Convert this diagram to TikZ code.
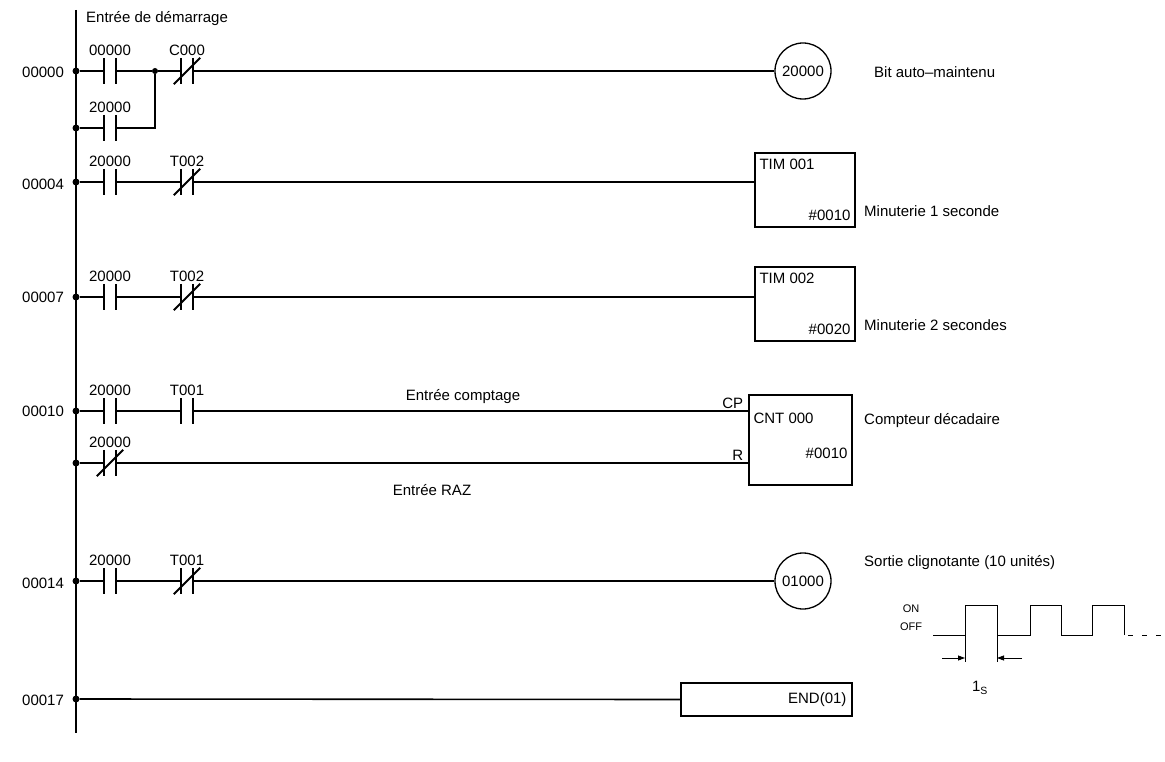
\documentclass[tikz,border=0pt]{standalone}
\usepackage{fontspec}
\setmainfont{Liberation Sans}
\usetikzlibrary{arrows.meta, positioning, calc}

\begin{document}
\begin{tikzpicture}[
		x=1pt, y=-1pt,
		every node/.style={font=\fontsize{15}{18}\selectfont, inner sep=2pt},
		wire/.style={line width=1.6pt},
		bar/.style={line width=1.8pt},
		contact/.style={minimum width=12pt, minimum height=26pt, inner sep=0pt,
			label distance=3pt},
		dot/.style={circle, fill, inner sep=0pt, minimum size=7pt},
		coil/.style={draw, circle, line width=1.3pt, minimum size=56pt, inner sep=0pt},
		fbox/.style={draw, line width=1.3pt, inner sep=0pt},
		addr/.style={anchor=west},
		note/.style={anchor=west},
		wave/.style={line width=1pt},
		dim/.style={line width=0.8pt, -{Triangle[length=7pt, width=5pt]}}
		]
		\useasboundingbox (0,0) rectangle (1165,762);
		
		% === RAIL ===
		\coordinate (railtop) at (76,10);
		\coordinate (railbot) at (76,733);
		\draw[line width=2pt] (railtop) -- (railbot);
		\node[anchor=west] (start) at (84,19) {Entrée de démarrage};
		
		% === RUNG 00000 ===
		\node[addr] (a0) at (20,72) {00000};
		\node[dot] (r0) at (76,71) {};
		\node[dot] (r0b) at (76,128) {};
		\node[contact, label={above:00000}] (k0) at (110,71) {};
		\node[contact, label={above:20000}] (k0b) at (110,128) {};
		\node[dot, minimum size=6pt] (j0) at (155,71) {};
		\node[contact, label={above:C000}] (k1) at (187,71) {};
		\node[coil] (q0) at (803,71) {20000};
		\node[note] (n0) at (872,72) {Bit auto--maintenu};
		\draw[wire] (r0) -- (k0.west) (k0.east) -- (j0) -- (k1.west) (k1.east) -- (q0);
		\draw[wire] (r0b) -- (k0b.west) (k0b.east) -| (j0);
		
		% === RUNG 00004 ===
		\node[addr] (a4) at (20,184) {00004};
		\node[dot] (r4) at (76,182) {};
		\node[contact, label={above:20000}] (k4) at (110,182) {};
		\node[contact, label={above:T002}] (k5) at (187,182) {};
		\node[fbox, minimum width=100pt, minimum height=74pt] (t1) at (805,190) {};
		\node[anchor=north west] at ([xshift=3pt,yshift=-4pt]t1.north west) {TIM 001};
		\node[anchor=south east] at ([xshift=-3pt,yshift=5pt]t1.south east) {\#0010};
		\node[note] (n4) at (862,211) {Minuterie 1 seconde};
		\draw[wire] (r4) -- (k4.west) (k4.east) -- (k5.west) (k5.east) -- (t1.west |- k5);
		
		% === RUNG 00007 ===
		\node[addr] (a7) at (20,297) {00007};
		\node[dot] (r7) at (76,297) {};
		\node[contact, label={above:20000}] (k7) at (110,297) {};
		\node[contact, label={above:T002}] (k8) at (187,297) {};
		\node[fbox, minimum width=100pt, minimum height=74pt] (t2) at (805,304) {};
		\node[anchor=north west] at ([xshift=3pt,yshift=-4pt]t2.north west) {TIM 002};
		\node[anchor=south east] at ([xshift=-3pt,yshift=5pt]t2.south east) {\#0020};
		\node[note] (n7) at (862,325) {Minuterie 2 secondes};
		\draw[wire] (r7) -- (k7.west) (k7.east) -- (k8.west) (k8.east) -- (t2.west |- k8);
		
		% === RUNG 00010 ===
		\node[addr] (a10) at (20,411) {00010};
		\node[dot] (r10) at (76,411) {};
		\node[dot] (r10b) at (76,463) {};
		\node[contact, label={above:20000}] (k10) at (110,411) {};
		\node[contact, label={above:T001}] (k11) at (187,411) {};
		\node[contact, label={above:20000}] (k12) at (110,463) {};
		\node[fbox, minimum width=103pt, minimum height=90pt] (c0) at (800.5,440) {};
		\node[anchor=north west] at ([xshift=3pt,yshift=-16pt]c0.north west) {CNT 000};
		\node[anchor=south east] at ([xshift=-3pt,yshift=25pt]c0.south east) {\#0010};
		\node[anchor=south east] at ([xshift=-3pt]c0.west |- k11) {CP};
		\node[anchor=south east] at ([xshift=-3pt]c0.west |- k12) {R};
		\node (cin) at (463,397) {Entrée comptage};
		\node (rin) at (432,490) {Entrée RAZ};
		\node[note] (n10) at (862,421) {Compteur décadaire};
		\draw[wire] (r10) -- (k10.west) (k10.east) -- (k11.west) (k11.east) -- (c0.west |- k11);
		\draw[wire] (r10b) -- (k12.west) (k12.east) -- (c0.west |- k12);
		
		% === RUNG 00014 ===
		\node[addr] (a14) at (20,583) {00014};
		\node[dot] (r14) at (76,581) {};
		\node[contact, label={above:20000}] (k14) at (110,581) {};
		\node[contact, label={above:T001}] (k15) at (187,581) {};
		\node[coil] (q1) at (803,581) {01000};
		\node[note] (n14) at (862,563) {Sortie clignotante (10 unités)};
		\draw[wire] (r14) -- (k14.west) (k14.east) -- (k15.west) (k15.east) -- (q1);
		
		% === RUNG 00017 ===
		\node[addr] (a17) at (20,700) {00017};
		\node[dot] (r17) at (76,699) {};
		\node[fbox, minimum width=171pt, minimum height=33pt] (e0) at (766.5,699.5) {};
		\node[anchor=east] at ([xshift=-4pt]e0.east) {END(01)};
		\draw[wire] (r17) -- (e0.west);
		
		% === CONTACT BARS ===
		\foreach \c in {k0,k0b,k1,k4,k5,k7,k8,k10,k11,k12,k14,k15}
		\draw[bar] (\c.north west) -- (\c.south west) (\c.north east) -- (\c.south east);
		\foreach \c in {k1,k5,k8,k12,k15}
		\draw[bar] ([shift={(-7,0)}]\c.south west) -- ([shift={(7,0)}]\c.north east);
		
		% === TIMING ===
		\node[font=\fontsize{11}{13}\selectfont] (on) at (911,609) {ON};
		\node[font=\fontsize{11}{13}\selectfont] (off) at (911,627) {OFF};
		\coordinate (w0) at (933,635);
		\coordinate (p1) at (965,635);
		\coordinate (p2) at (997,635);
		\draw[wave] (w0) -- (p1) -- ++(0,-30) -| (p2) -- ++(33,0) -- ++(0,-30) -- ++(31,0)
		-- ++(0,30) -- ++(31,0) -- ++(0,-30) -- ++(32,0) -- ++(0,30);
		\draw[wave, dash pattern=on 5pt off 9pt] (1128,635) -- (1162,635);
		\draw[dim, -] (p1) -- ++(0,27) (p2) -- ++(0,27);
		\coordinate (m1) at (965,658);
		\coordinate (m2) at (997,658);
		\draw[dim] ([xshift=-23pt]m1) -- (m1);
		\draw[dim] ([xshift=25pt]m2) -- (m2);
		\node (sec) at (980,688) {1\textsubscript{S}};
\end{tikzpicture}
\end{document}
